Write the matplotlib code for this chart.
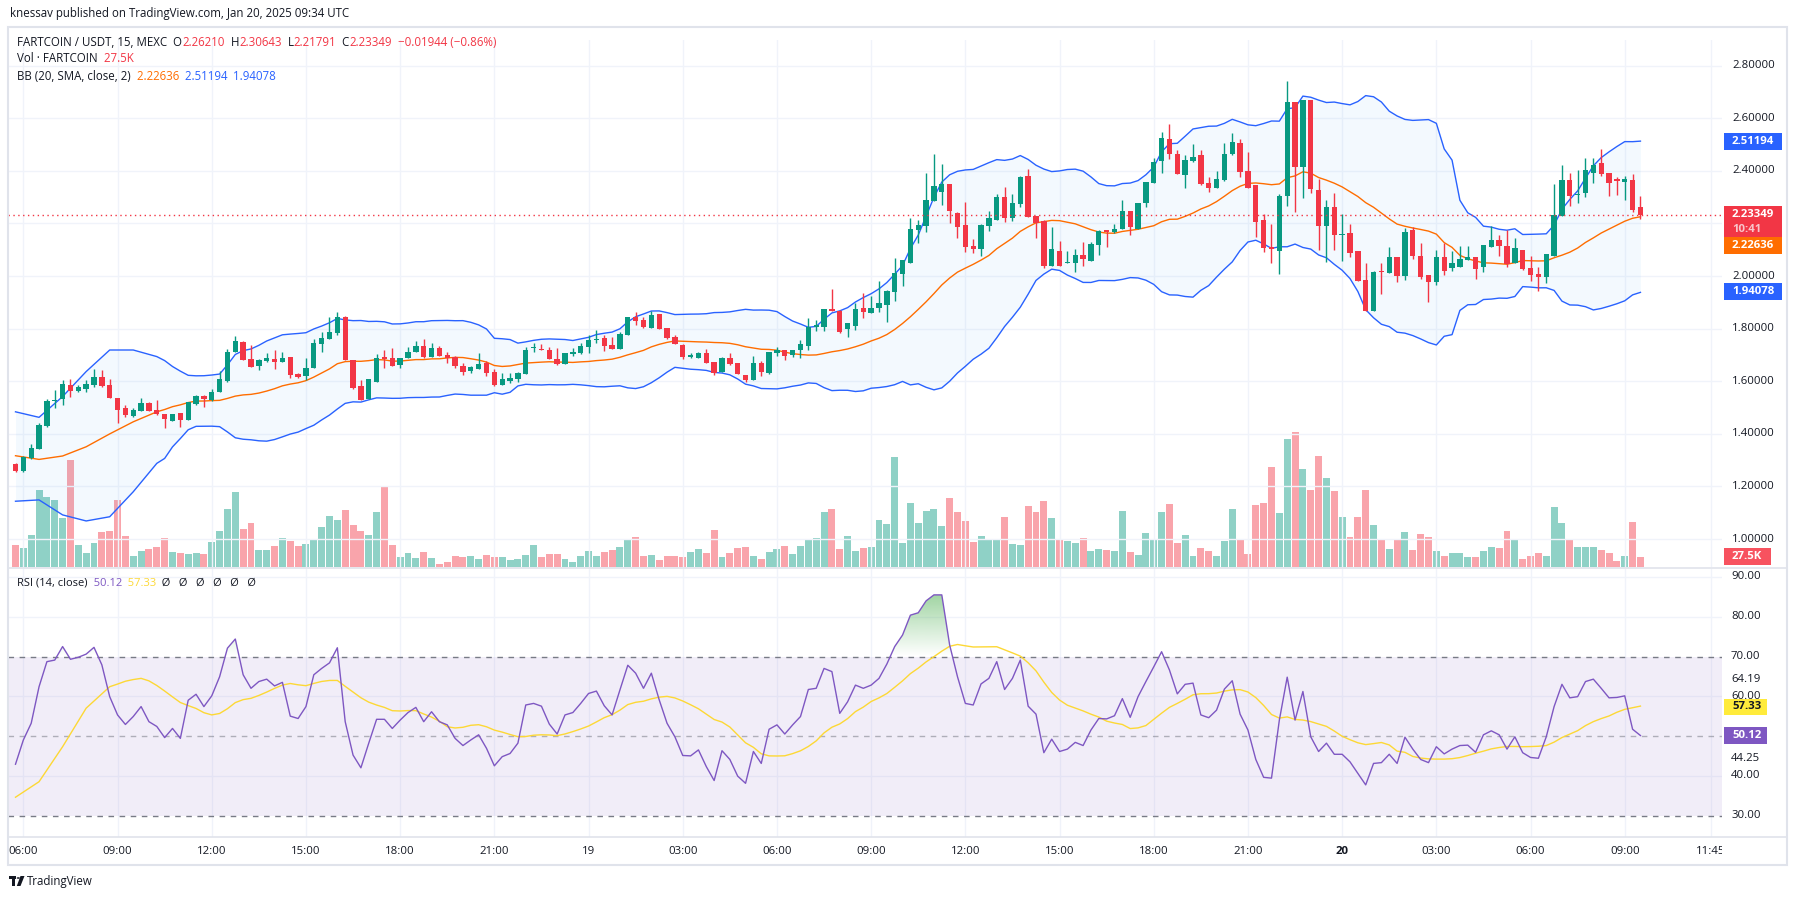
import numpy as np
import pandas as pd
import matplotlib.pyplot as plt
import matplotlib.transforms as mtransforms
from matplotlib.patches import Rectangle, Circle, Polygon
from matplotlib.path import Path
from matplotlib.colors import to_rgb

plt.rcParams['font.family'] = ['Open Sans', 'DejaVu Sans']

# ---- data (15 min candles, 18 Jan 05:45 -> 20 Jan 09:30 UTC) ----
open_ = [1.286, 1.260, 1.310, 1.344, 1.430, 1.525, 1.533, 1.586, 1.563, 1.571,
         1.586, 1.615, 1.586, 1.535, 1.498, 1.468, 1.487, 1.518, 1.491, 1.475,
         1.450, 1.478, 1.454, 1.515, 1.544, 1.527, 1.560, 1.601, 1.713, 1.749,
         1.685, 1.659, 1.677, 1.685, 1.673, 1.692, 1.629, 1.621, 1.650, 1.743,
         1.762, 1.782, 1.846, 1.681, 1.582, 1.532, 1.599, 1.691, 1.689, 1.662,
         1.689, 1.711, 1.735, 1.694, 1.727, 1.700, 1.694, 1.658, 1.640, 1.648,
         1.671, 1.634, 1.586, 1.602, 1.609, 1.628, 1.725, 1.724, 1.719, 1.685,
         1.667, 1.704, 1.706, 1.729, 1.757, 1.763, 1.738, 1.723, 1.776, 1.843,
         1.833, 1.803, 1.854, 1.803, 1.767, 1.739, 1.694, 1.689, 1.706, 1.673,
         1.635, 1.689, 1.668, 1.624, 1.605, 1.668, 1.630, 1.706, 1.719, 1.701,
         1.719, 1.734, 1.808, 1.808, 1.874, 1.869, 1.798, 1.812, 1.879, 1.861,
         1.879, 1.890, 1.941, 2.008, 2.051, 2.175, 2.190, 2.285, 2.318, 2.350,
         2.241, 2.194, 2.115, 2.103, 2.192, 2.215, 2.301, 2.222, 2.274, 2.381,
         2.229, 2.211, 2.040, 2.095, 2.050, 2.051, 2.080, 2.059, 2.119, 2.175,
         2.166, 2.179, 2.248, 2.179, 2.279, 2.355, 2.439, 2.520, 2.464, 2.383,
         2.436, 2.460, 2.353, 2.336, 2.364, 2.463, 2.506, 2.400, 2.346, 2.213,
         2.109, 2.097, 2.305, 2.662, 2.416, 2.670, 2.327, 2.192, 2.264, 2.156,
         2.162, 2.095, 1.985, 1.869, 2.019, 2.013, 2.071, 2.002, 2.175, 2.078,
         2.004, 1.978, 2.071, 2.029, 2.035, 2.061, 2.071, 2.033, 2.112, 2.137,
         2.114, 2.049, 2.099, 2.029, 2.008, 1.995, 2.078, 2.229, 2.365, 2.307,
         2.317, 2.393, 2.429, 2.391, 2.368, 2.359, 2.365, 2.262]
high = [1.289, 1.317, 1.362, 1.440, 1.534, 1.567, 1.605, 1.607, 1.586, 1.604,
        1.647, 1.643, 1.609, 1.536, 1.510, 1.497, 1.538, 1.523, 1.529, 1.476,
        1.477, 1.479, 1.522, 1.549, 1.549, 1.570, 1.639, 1.722, 1.772, 1.753,
        1.739, 1.683, 1.709, 1.719, 1.711, 1.693, 1.630, 1.687, 1.762, 1.786,
        1.846, 1.862, 1.849, 1.682, 1.605, 1.610, 1.703, 1.719, 1.725, 1.690,
        1.732, 1.752, 1.761, 1.744, 1.734, 1.711, 1.695, 1.668, 1.657, 1.706,
        1.678, 1.645, 1.633, 1.633, 1.634, 1.729, 1.747, 1.742, 1.729, 1.727,
        1.707, 1.728, 1.747, 1.775, 1.795, 1.776, 1.768, 1.789, 1.846, 1.863,
        1.843, 1.869, 1.855, 1.804, 1.775, 1.740, 1.708, 1.713, 1.723, 1.674,
        1.694, 1.706, 1.669, 1.625, 1.696, 1.677, 1.711, 1.732, 1.720, 1.720,
        1.757, 1.842, 1.833, 1.875, 1.950, 1.870, 1.821, 1.896, 1.937, 1.924,
        1.983, 1.946, 2.070, 2.062, 2.220, 2.213, 2.393, 2.464, 2.426, 2.351,
        2.242, 2.282, 2.141, 2.197, 2.249, 2.312, 2.338, 2.312, 2.379, 2.407,
        2.230, 2.212, 2.185, 2.135, 2.095, 2.103, 2.130, 2.130, 2.174, 2.176,
        2.198, 2.289, 2.249, 2.278, 2.359, 2.448, 2.549, 2.577, 2.480, 2.460,
        2.502, 2.480, 2.376, 2.400, 2.505, 2.543, 2.520, 2.473, 2.347, 2.235,
        2.197, 2.312, 2.742, 2.663, 2.670, 2.671, 2.368, 2.289, 2.315, 2.236,
        2.198, 2.096, 2.051, 2.021, 2.051, 2.112, 2.072, 2.182, 2.188, 2.125,
        2.005, 2.099, 2.125, 2.095, 2.116, 2.114, 2.072, 2.118, 2.190, 2.156,
        2.175, 2.144, 2.100, 2.076, 2.036, 2.085, 2.350, 2.422, 2.391, 2.403,
        2.448, 2.448, 2.482, 2.392, 2.376, 2.381, 2.388, 2.306]
low = [1.256, 1.257, 1.305, 1.342, 1.428, 1.500, 1.510, 1.542, 1.560, 1.561,
       1.578, 1.579, 1.537, 1.443, 1.463, 1.466, 1.486, 1.486, 1.472, 1.424,
       1.449, 1.427, 1.452, 1.510, 1.503, 1.526, 1.558, 1.599, 1.711, 1.681,
       1.655, 1.643, 1.674, 1.647, 1.672, 1.614, 1.611, 1.605, 1.649, 1.713,
       1.761, 1.777, 1.680, 1.571, 1.527, 1.531, 1.598, 1.652, 1.658, 1.649,
       1.688, 1.710, 1.690, 1.693, 1.695, 1.671, 1.652, 1.624, 1.633, 1.647,
       1.621, 1.582, 1.585, 1.592, 1.599, 1.627, 1.710, 1.718, 1.685, 1.662,
       1.666, 1.697, 1.705, 1.709, 1.744, 1.717, 1.723, 1.722, 1.775, 1.814,
       1.803, 1.802, 1.799, 1.762, 1.740, 1.684, 1.687, 1.688, 1.670, 1.624,
       1.634, 1.661, 1.626, 1.599, 1.604, 1.620, 1.629, 1.696, 1.681, 1.694,
       1.690, 1.719, 1.793, 1.793, 1.866, 1.782, 1.770, 1.795, 1.839, 1.860,
       1.865, 1.827, 1.907, 1.964, 2.050, 2.127, 2.169, 2.284, 2.270, 2.203,
       2.144, 2.093, 2.087, 2.078, 2.173, 2.214, 2.206, 2.211, 2.262, 2.225,
       2.144, 2.032, 2.039, 2.039, 2.049, 2.014, 2.040, 2.058, 2.080, 2.112,
       2.165, 2.178, 2.156, 2.178, 2.264, 2.354, 2.391, 2.444, 2.387, 2.334,
       2.435, 2.348, 2.318, 2.335, 2.363, 2.462, 2.378, 2.335, 2.150, 2.093,
       2.051, 2.008, 2.267, 2.245, 2.298, 2.317, 2.099, 2.055, 2.099, 2.059,
       2.074, 1.982, 1.868, 1.868, 1.932, 2.012, 1.979, 1.985, 2.065, 1.989,
       1.900, 1.966, 2.004, 2.021, 2.034, 2.060, 1.989, 2.016, 2.111, 2.076,
       2.036, 2.048, 2.023, 1.983, 1.945, 1.972, 2.077, 2.228, 2.267, 2.279,
       2.300, 2.353, 2.381, 2.306, 2.308, 2.289, 2.245, 2.218]
close = [1.260, 1.313, 1.346, 1.433, 1.525, 1.529, 1.590, 1.564, 1.578, 1.590,
         1.615, 1.582, 1.538, 1.492, 1.472, 1.491, 1.518, 1.487, 1.477, 1.455,
         1.475, 1.453, 1.521, 1.544, 1.531, 1.559, 1.609, 1.711, 1.753, 1.682,
         1.656, 1.681, 1.690, 1.673, 1.689, 1.625, 1.616, 1.650, 1.747, 1.766,
         1.787, 1.846, 1.681, 1.573, 1.527, 1.609, 1.689, 1.686, 1.659, 1.689,
         1.713, 1.735, 1.691, 1.727, 1.696, 1.690, 1.658, 1.637, 1.656, 1.666,
         1.633, 1.586, 1.608, 1.614, 1.633, 1.719, 1.729, 1.720, 1.686, 1.667,
         1.706, 1.713, 1.734, 1.757, 1.762, 1.734, 1.724, 1.779, 1.843, 1.831,
         1.808, 1.852, 1.800, 1.763, 1.741, 1.694, 1.699, 1.706, 1.671, 1.633,
         1.689, 1.666, 1.627, 1.605, 1.668, 1.637, 1.710, 1.719, 1.696, 1.719,
         1.741, 1.808, 1.814, 1.874, 1.869, 1.787, 1.820, 1.875, 1.865, 1.879,
         1.898, 1.945, 2.013, 2.061, 2.179, 2.196, 2.289, 2.343, 2.350, 2.249,
         2.188, 2.112, 2.103, 2.196, 2.221, 2.301, 2.222, 2.278, 2.378, 2.226,
         2.201, 2.040, 2.103, 2.040, 2.055, 2.080, 2.064, 2.122, 2.173, 2.166,
         2.178, 2.248, 2.188, 2.277, 2.358, 2.434, 2.524, 2.464, 2.388, 2.441,
         2.452, 2.349, 2.336, 2.368, 2.463, 2.509, 2.397, 2.336, 2.207, 2.108,
         2.103, 2.305, 2.662, 2.416, 2.670, 2.330, 2.192, 2.264, 2.156, 2.159,
         2.089, 1.983, 1.869, 2.017, 2.016, 2.071, 2.002, 2.169, 2.078, 1.995,
         1.979, 2.074, 2.019, 2.051, 2.065, 2.071, 2.027, 2.118, 2.137, 2.114,
         2.046, 2.106, 2.027, 2.004, 1.998, 2.084, 2.232, 2.365, 2.306, 2.312,
         2.403, 2.421, 2.388, 2.355, 2.362, 2.369, 2.251, 2.23349]
volume = [60, 52, 87, 211, 193, 183, 135, 293, 60, 39,
          66, 96, 99, 183, 84, 29, 44, 50, 55, 80,
          41, 39, 35, 39, 35, 69, 99, 160, 205, 105,
          121, 47, 47, 57, 80, 72, 58, 63, 74, 110,
          140, 129, 157, 116, 99, 88, 150, 219, 61, 28,
          39, 25, 40, 26, 7, 13, 29, 27, 29, 21,
          32, 27, 27, 18, 21, 32, 60, 27, 35, 35,
          21, 13, 29, 43, 29, 40, 46, 54, 76, 82,
          29, 32, 18, 29, 29, 27, 40, 49, 38, 101,
          27, 38, 51, 54, 29, 21, 40, 49, 57, 35,
          57, 73, 79, 150, 159, 50, 84, 43, 51, 54,
          128, 117, 302, 65, 175, 120, 153, 159, 112, 189,
          150, 126, 68, 84, 76, 73, 137, 62, 60, 167,
          150, 181, 134, 73, 71, 65, 79, 43, 49, 46,
          43, 153, 40, 32, 93, 76, 150, 172, 65, 87,
          29, 51, 43, 29, 71, 159, 73, 35, 170, 175,
          274, 148, 351, 370, 269, 211, 304, 244, 208, 137,
          82, 137, 211, 115, 76, 49, 73, 95, 46, 90,
          82, 43, 29, 38, 38, 27, 27, 43, 54, 51,
          98, 76, 21, 29, 38, 29, 164, 120, 73, 54,
          54, 54, 46, 38, 16, 29, 123, 27.5]  # thousands
rsi = [42.9, 49.0, 53.2, 62.4, 68.7, 69.1, 72.5, 69.3, 69.8, 70.6,
       72.3, 67.9, 59.9, 55.3, 52.9, 54.9, 57.4, 53.6, 52.4, 49.6,
       51.9, 49.4, 59.0, 60.5, 57.4, 60.1, 64.9, 72.1, 74.4, 65.4,
       62.0, 63.7, 64.3, 62.6, 63.5, 55.0, 54.4, 57.4, 65.4, 67.0,
       68.4, 72.2, 53.6, 45.2, 42.0, 48.2, 54.2, 54.2, 51.9, 54.0,
       55.9, 57.2, 53.6, 56.1, 53.6, 52.8, 49.4, 47.6, 49.0, 50.3,
       46.9, 42.5, 44.8, 45.6, 48.2, 57.8, 58.2, 57.5, 53.0, 50.5,
       55.3, 55.9, 58.2, 60.7, 61.3, 57.6, 55.3, 61.6, 67.8, 65.8,
       62.0, 65.8, 59.1, 53.2, 49.8, 45.1, 45.0, 46.5, 42.3, 38.8,
       46.3, 44.1, 39.9, 38.1, 46.1, 43.1, 51.7, 52.8, 50.5, 52.8,
       54.9, 61.7, 62.0, 67.0, 66.2, 55.7, 58.6, 62.8, 62.0, 62.8,
       64.5, 68.1, 72.5, 75.4, 80.4, 81.0, 84.0, 85.5, 85.5, 72.9,
       64.9, 58.2, 57.8, 63.1, 64.5, 68.7, 61.7, 64.5, 69.1, 57.5,
       55.5, 45.8, 49.2, 46.1, 46.7, 48.4, 47.6, 51.5, 54.4, 54.3,
       55.1, 59.4, 54.7, 59.9, 63.7, 67.4, 71.2, 66.6, 60.6, 63.0,
       63.3, 55.3, 54.6, 56.5, 61.8, 63.9, 55.5, 51.5, 44.1, 39.6,
       39.4, 54.0, 64.8, 54.0, 61.2, 49.8, 46.1, 48.2, 45.4, 45.4,
       43.5, 40.6, 37.7, 43.1, 43.3, 45.4, 43.1, 49.7, 46.7, 44.1,
       43.3, 47.3, 45.5, 46.7, 47.6, 47.7, 45.9, 50.3, 51.3, 50.3,
       46.7, 49.8, 45.8, 44.6, 44.4, 49.8, 57.4, 63.0, 59.6, 59.9,
       63.7, 64.3, 62.0, 59.6, 59.7, 60.1, 51.7, 50.12]

bb_warm_idx = [0, 3, 6, 9, 12, 15, 18]
bb_warm_upper = [1.484, 1.463, 1.542, 1.637, 1.719, 1.719, 1.694]
bb_warm_mid = [1.317, 1.303, 1.316, 1.351, 1.400, 1.446, 1.484]
bb_warm_lower = [1.144, 1.149, 1.092, 1.069, 1.085, 1.180, 1.288]
ma_warm_idx = [0, 3, 6, 9, 12]
ma_warm = [34.6, 38.5, 47.3, 57.0, 62.4]

tick_idx = [1, 13, 25, 37, 49, 61, 73, 85, 97, 109, 121, 133, 145, 157, 169,
            181, 193, 205, 216]
tick_lbl = ['06:00', '09:00', '12:00', '15:00', '18:00', '21:00', '19', '03:00',
            '06:00', '09:00', '12:00', '15:00', '18:00', '21:00', '20', '03:00',
            '06:00', '09:00', '11:45']
price_ticks = [1.0, 1.2, 1.4, 1.6, 1.8, 2.0, 2.2, 2.4, 2.6, 2.8]
rsi_ticks = [90, 80, 70, 64.19, 60, 44.25, 40, 30]

last_price, bb_m_last, bb_u_last, bb_l_last = 2.23349, 2.22636, 2.51194, 1.94078
rsi_last, rsi_ma_last, vol_last = 50.12, 57.33, 27.5

# ---- indicators: BB(20, SMA, close, 2) and SMA(14) of RSI ----
cs = pd.Series(close)
sma = cs.rolling(20).mean()
sd = cs.rolling(20).std(ddof=0)
full = np.arange(19, len(close))
bb_x = bb_warm_idx + list(full)
bb_mid = bb_warm_mid + list(sma.iloc[19:])
bb_upper = bb_warm_upper + list((sma + 2 * sd).iloc[19:])
bb_lower = bb_warm_lower + list((sma - 2 * sd).iloc[19:])
rma = pd.Series(rsi).rolling(14).mean()
ma_x = ma_warm_idx + list(range(13, len(rsi)))
ma_y = ma_warm + list(rma.iloc[13:])

# ---- colours ----
UP, DN = '#089981', '#F23645'
TXT, GRID = '#131722', '#F0F3FA'
BLUE, ORANGE, PURPLE, YELLOW = '#2962FF', '#FF6D00', '#7E57C2', '#FDD835'

W, H = 1794, 901
fig = plt.figure(figsize=(W / 100, H / 100), dpi=100)


def add_ax(x0, y0, x1, y1, **kw):
    return fig.add_axes([x0 / W, 1 - y1 / H, (x1 - x0) / W, (y1 - y0) / H], **kw)


# pixel layout
X0, X1 = 8, 1722
step, first = 7.85, 15.5
xlim = ((X0 - first) / step, (X1 - first) / step)

ax_vol = add_ax(X0, 40, X1, 567)
ax = add_ax(X0, 40, X1, 567, facecolor='none')
ax_r = add_ax(X0, 569, X1, 837)
ax_t = add_ax(X0, 837, X1, 865)

ppx = 263.0  # pixels per price unit
ax.set_ylim(2.8 - (567 - 65.7) / ppx, 2.8 + (65.7 - 40) / ppx)
ax_vol.set_ylim(0, 527 * 2.75)
rlim = (50 - (837 - 736) / 3.975, 50 + (736 - 569) / 3.975)
ax_r.set_ylim(*rlim)
ax_t.set_ylim(0, 1)
for a in (ax, ax_vol, ax_r, ax_t):
    a.set_xlim(*xlim)
    a.set_axis_off()

idx = np.arange(len(close))
o, c = np.array(open_), np.array(close)
up = c >= o
col = np.where(up, UP, DN)

# grid
for i in tick_idx:
    ax.axvline(i, color=GRID, lw=1, zorder=0)
    ax_r.axvline(i, color=GRID, lw=1, zorder=0)
for p in price_ticks:
    ax.axhline(p, color=GRID, lw=1, zorder=0)
for r in [40, 60, 80, 90]:
    ax_r.axhline(r, color=GRID, lw=1, zorder=0)

# volume
ax_vol.bar(idx, volume, width=0.88, color=col, alpha=0.45, lw=0)

# bollinger bands
ax.fill_between(bb_x, bb_lower, bb_upper, color='#2196F3', alpha=0.05, lw=0, zorder=1)
ax.plot(bb_x, bb_upper, color=BLUE, lw=1, zorder=2)
ax.plot(bb_x, bb_lower, color=BLUE, lw=1, zorder=2)
ax.plot(bb_x, bb_mid, color=ORANGE, lw=1, zorder=2)

# candles
ax.vlines(idx, low, high, colors=col, lw=1, zorder=3)
ax.bar(idx, np.maximum(np.abs(c - o), 0.003), bottom=np.minimum(o, c), width=0.68,
       color=col, lw=0, zorder=4)
ax.axhline(last_price, color=DN, lw=1, ls=(0, (1, 2.5)), zorder=5)

# RSI pane
ax_r.axhspan(30, 70, color=PURPLE, alpha=0.1, lw=0, zorder=1)
for lvl, al in [(70, 1), (50, 0.55), (30, 1)]:
    ax_r.axhline(lvl, color='#787B86', lw=1, ls=(0, (4, 4)), alpha=al, zorder=2)
rsi_arr = np.array(rsi)
fb = ax_r.fill_between(idx, 70, rsi_arr, where=rsi_arr > 70, interpolate=True,
                       color='none', lw=0)
img = np.zeros((256, 1, 4))
img[..., :3] = to_rgb('#4CAF50')
img[..., 3] = np.linspace(0, 0.55, 256)[:, None]
im = ax_r.imshow(img, extent=[xlim[0], xlim[1], 70, 86], origin='lower', aspect='auto',
                 zorder=3, interpolation='bilinear')
paths = fb.get_paths()
if paths:
    im.set_clip_path(Path.make_compound_path(*paths), transform=ax_r.transData)
ax_r.set_xlim(*xlim)
ax_r.set_ylim(*rlim)
ax_r.plot(ma_x, ma_y, color=YELLOW, lw=1, zorder=4)
ax_r.plot(idx, rsi, color=PURPLE, lw=1, zorder=5)

# time axis
for i, s in zip(tick_idx, tick_lbl):
    ax_t.text(i, 0.5, s, ha='center', va='center', fontsize=8.2, color=TXT,
              fontweight='bold' if s == '20' else 'normal', clip_on=True)

# price axis labels
tr_p = mtransforms.blended_transform_factory(fig.transFigure, ax.transData)
tr_r = mtransforms.blended_transform_factory(fig.transFigure, ax_r.transData)
LX = 1732 / W
for p in price_ticks:
    if abs(p - 2.2) > 1e-6:
        ax.text(LX, p, f'{p:.5f}', transform=tr_p, ha='left', va='center',
                fontsize=8.2, color=TXT, clip_on=False)


def price_box(a, tr, y, hgt, txt, fc, tc='white', w=58):
    a.add_patch(Rectangle((1724 / W, y - hgt / 2), w / W, hgt, transform=tr, fc=fc,
                          ec='none', clip_on=False, zorder=10))
    a.text(LX, y, txt, transform=tr, ha='left', va='center', fontsize=8.2, color=tc,
           fontweight='bold', clip_on=False, zorder=11)


bh = 16.5 / ppx
price_box(ax, tr_p, bb_u_last, bh, f'{bb_u_last:.5f}', BLUE)
price_box(ax, tr_p, bb_l_last, bh, f'{bb_l_last:.5f}', BLUE)
# current price box with countdown
top = last_price + 8.2 / ppx
ax.add_patch(Rectangle((1724 / W, top - 31 / ppx), 58 / W, 31 / ppx, transform=tr_p,
                       fc=DN, ec='none', clip_on=False, zorder=10))
ax.text(LX, last_price, f'{last_price:.5f}', transform=tr_p, ha='left', va='center',
        fontsize=8.2, color='white', fontweight='bold', clip_on=False, zorder=11)
ax.text(LX, last_price - 14.5 / ppx, '10:41', transform=tr_p, ha='left', va='center',
        fontsize=8.2, color='#F8C5CA', fontweight='bold', clip_on=False, zorder=11)
price_box(ax, tr_p, top - 31 / ppx - bh / 2, bh, f'{bb_m_last:.5f}', ORANGE)
# volume label
vy = 2.8 - (566.7 - vol_last / 2.75 - 65.7) / ppx
price_box(ax, tr_p, vy, bh, f'{vol_last:.1f}K', '#F7525F', w=47)

rh = 16.5 / 3.975
for r in rsi_ticks:
    ax_r.text(1731 / W, r, f'{r:.2f}', transform=tr_r, ha='left', va='center',
              fontsize=8.2, color=TXT, clip_on=False)
price_box(ax_r, tr_r, rsi_ma_last, rh, f'{rsi_ma_last:.2f}', '#FFEB3B', tc=TXT, w=43)
price_box(ax_r, tr_r, rsi_last, rh, f'{rsi_last:.2f}', PURPLE, w=43)

# frame and separators
fig.add_artist(Rectangle((8 / W, 1 - 865 / H), 1779 / W, 838 / H, fill=False,
                         ec='#E0E3EB', lw=1.5, transform=fig.transFigure))
for yy in (568, 837):
    fig.add_artist(plt.Line2D([8 / W, 1787 / W], [1 - yy / H] * 2, color='#E0E3EB',
                              lw=1.2, transform=fig.transFigure))

# header and legends
renderer = fig.canvas.get_renderer()


def rich(x, y, parts, size=8.3):
    for s, cc in parts:
        t = fig.text(x / W, 1 - y / H, s, color=cc, fontsize=size, ha='left', va='center')
        x += t.get_window_extent(renderer).width


fig.text(10 / W, 1 - 14 / H, 'knessav published on TradingView.com, Jan 20, 2025 09:34 UTC',
         fontsize=8.3, color=TXT, ha='left', va='center')
rich(17, 42, [('FARTCOIN / USDT, 15, MEXC', TXT), ('  O', TXT), ('2.26210', DN),
              ('  H', TXT), ('2.30643', DN), ('  L', TXT), ('2.21791', DN),
              ('  C', TXT), ('2.23349', DN), ('  −0.01944 (−0.86%)', DN)])
rich(17, 59, [('Vol · FARTCOIN', TXT), ('  27.5K', DN)])
rich(17, 76, [('BB (20, SMA, close, 2)', TXT), ('  2.22636', ORANGE),
              ('  2.51194', BLUE), ('  1.94078', BLUE)])
rich(17, 583, [('RSI (14, close)', TXT), ('  50.12', PURPLE), ('  57.33', YELLOW),
               ('  Ø   Ø   Ø   Ø   Ø   Ø', TXT)], size=8.0)

# TradingView logo
ft = fig.transFigure
fig.add_artist(Rectangle((9 / W, 1 - 879 / H), 7 / W, 3 / H, fc=TXT, ec='none', transform=ft))
fig.add_artist(Rectangle((12 / W, 1 - 886 / H), 3 / W, 10 / H, fc=TXT, ec='none', transform=ft))
fig.add_artist(Circle((18.3 / W, 1 - 878 / H), 1.6 / W, fc=TXT, ec='none', transform=ft))
fig.add_artist(Polygon([(20.5 / W, 1 - 876 / H), (24.5 / W, 1 - 876 / H),
                        (20.5 / W, 1 - 886 / H), (16.8 / W, 1 - 886 / H)],
                       fc=TXT, ec='none', transform=ft))
fig.text(27 / W, 1 - 881 / H, 'TradingView', fontsize=8.3, color=TXT, ha='left', va='center')

fig.savefig('out.png', dpi=100)
